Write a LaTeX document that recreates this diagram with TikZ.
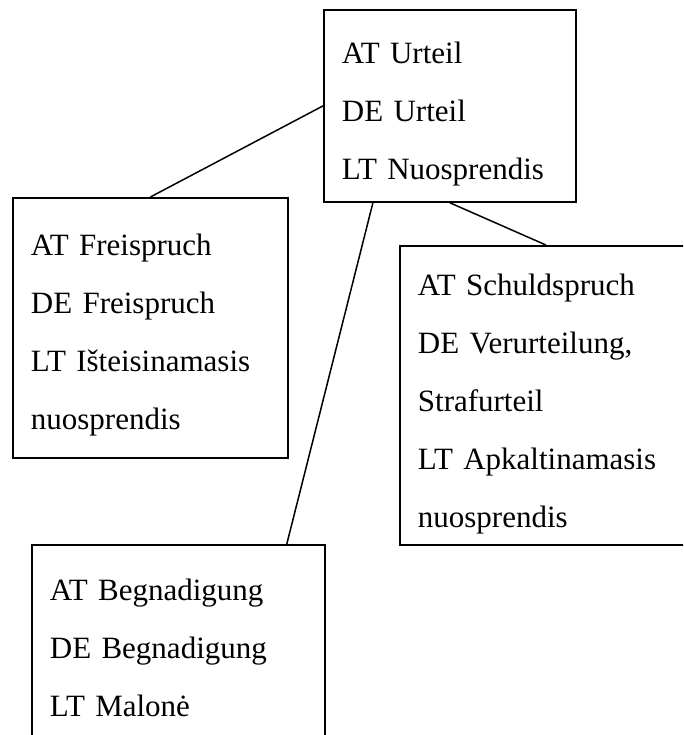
\documentclass[tikz,border=0pt]{standalone}
\usepackage{fontspec}
\setmainfont{Liberation Serif}
\usepackage{tikz}
\usetikzlibrary{positioning}
\tikzset{every node/.style={font=\fontsize{31}{58}\selectfont}}

\begin{document}
\begin{tikzpicture}[
    x=1pt, y=-1pt,
    term/.style={rectangle, draw, line width=1.8pt, anchor=north west, align=left, inner xsep=18pt, inner ysep=0pt},
    link/.style={line width=1.5pt}
]
\useasboundingbox (0,0) rectangle (683,735);
\clip (0,0) rectangle (683,735);

\node (urteil) [term, text width=216pt] at (323,9) {\rule{0pt}{54pt}AT Urteil\\DE Urteil\\LT Nuosprendis\rule[-22pt]{0pt}{22pt}};

\node (freispruch) [term, text width=239pt] at (12,197) {\rule{0pt}{58pt}AT Freispruch\\DE Freispruch\\LT Išteisinamasis\\nuosprendis\rule[-28pt]{0pt}{28pt}};

\node (schuld) [term, text width=256pt] at (399,245) {\rule{0pt}{50pt}AT Schuldspruch\\DE Verurteilung,\\Strafurteil\\LT Apkaltinamasis\\nuosprendis\rule[-17pt]{0pt}{17pt}};

\node (pardon) [term, text width=257pt] at (31,544) {\rule{0pt}{56pt}AT Begnadigung\\DE Begnadigung\\LT Malonė\rule[-22pt]{0pt}{22pt}};

\draw[link] (urteil.west) -- (freispruch.north);
\draw[link] (urteil.south) -- (schuld.north);
\draw[link] ([xshift=-77pt]urteil.south) -- ([xshift=-39pt]pardon.north east);

\end{tikzpicture}
\end{document}
